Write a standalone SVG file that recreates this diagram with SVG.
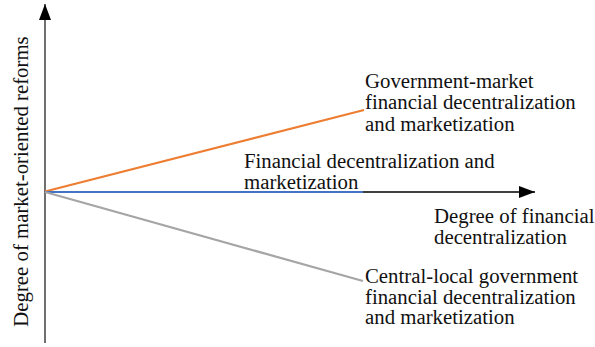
<svg xmlns="http://www.w3.org/2000/svg" width="595" height="347" viewBox="0 0 595 347">
  <defs>
    <marker id="arrow" viewBox="0 0 16 12" refX="16" refY="6" markerWidth="16" markerHeight="12" markerUnits="userSpaceOnUse" orient="auto">
      <path d="M0,0 L16,6 L0,12 Z" fill="#000"/>
    </marker>
  </defs>

  <g id="connectors" fill="none">
    <!-- axes -->
    <line x1="45" y1="343" x2="45" y2="4" stroke="#222" stroke-width="1.3" marker-end="url(#arrow)"/>
    <line x1="45" y1="192" x2="535" y2="192" stroke="#000" stroke-width="1.3" marker-end="url(#arrow)"/>
    <!-- trend lines from the origin -->
    <line x1="45" y1="191.5" x2="364" y2="110" stroke="#ED7D31" stroke-width="2.2"/>
    <line x1="45" y1="192" x2="363" y2="192" stroke="#4472C4" stroke-width="2.2"/>
    <line x1="45" y1="192" x2="363" y2="281" stroke="#A5A5A5" stroke-width="2.2"/>
  </g>

  <g font-family="'Liberation Serif', 'Times New Roman', serif" font-size="20.8" fill="#111">
    <g id="y-axis-label">
      <text transform="translate(28,181.5) rotate(-90)" text-anchor="middle">Degree of market-oriented reforms</text>
    </g>
    <g id="x-axis-label">
      <text x="434" y="222.7">Degree of financial</text>
      <text x="434" y="243.5">decentralization</text>
    </g>
    <g id="government-market">
      <text x="365" y="87.7">Government-market</text>
      <text x="365" y="109.3">financial decentralization</text>
      <text x="365" y="130.8">and marketization</text>
    </g>
    <g id="financial-marketization">
      <text x="244" y="167.5">Financial decentralization and</text>
      <text x="244" y="189">marketization</text>
    </g>
    <g id="central-local">
      <text x="365" y="282.7">Central-local government</text>
      <text x="365" y="303.5">financial decentralization</text>
      <text x="365" y="324.3">and marketization</text>
    </g>
  </g>
</svg>
